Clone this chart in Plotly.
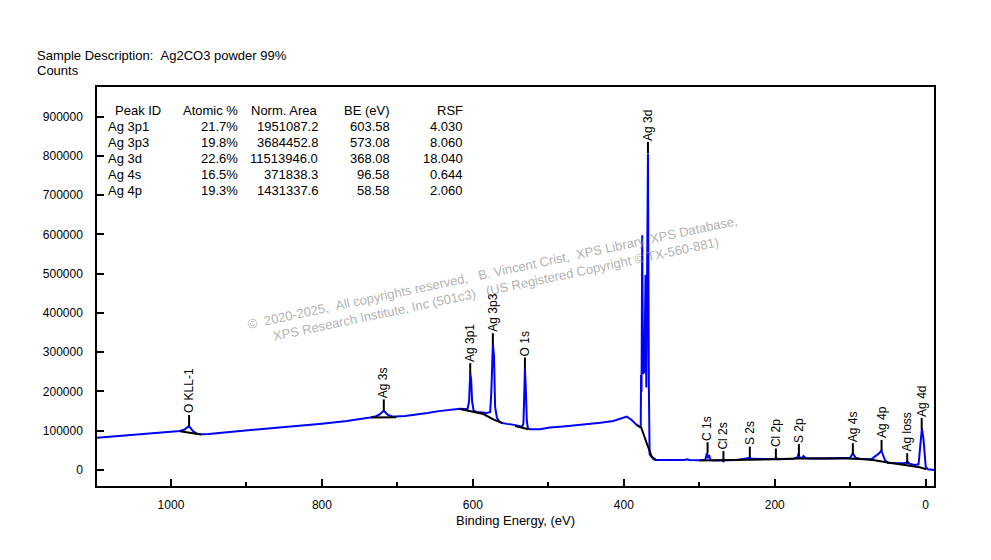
import plotly.graph_objects as go

# survey spectrum (binding energy eV, counts)
be = [1098, 1080, 1060, 1040, 1020, 1005, 995, 988, 982, 979, 976, 973, 970, 965, 960,
      950, 920, 900, 880, 855, 830, 800, 767, 750, 736, 728, 724, 718, 713, 708, 703,
      690, 679, 660, 645, 634, 625, 617, 610, 607, 605, 603.5, 602.3, 601, 599, 595,
      590, 582, 577, 575.5, 573.5, 572, 570.5, 568, 565, 561, 555, 545, 535, 533, 532,
      531, 530, 528.5, 527, 524, 511, 498, 480, 458, 431, 414, 400, 396, 389.5, 383,
      379, 377.6, 377.1, 376.5, 375.6, 374.5, 372.8, 371.2, 370.2, 368.0, 366.8, 365.8,
      363.5, 361, 358, 340, 320, 316, 313, 300, 292, 290, 288.5, 287, 285, 280, 260,
      250, 246, 236, 233, 230, 211, 200, 198, 196, 175, 170, 168.5, 167, 164, 162, 159,
      150, 130, 114, 100, 96.5, 93, 87, 72, 67.5, 62, 58.7, 56, 54, 50, 40, 30, 26, 24,
      21.5, 15, 9.5, 7.5, 5, 3, 2, 0, -3, -11]
counts = [82000, 85000, 88000, 91000, 94000, 98000, 100000, 99500, 103000, 107000, 112000,
          104000, 97500, 92000, 91000, 92000, 97000, 101000, 103500, 107000, 112000, 118000,
          125000, 129000, 134000, 137000, 141000, 151000, 141000, 137000, 136000, 137500,
          140000, 145000, 150000, 153000, 155000, 156000, 155500, 156000, 175000, 246000,
          232000, 175000, 151000, 148000, 147000, 145000, 148000, 200000, 321000, 290000,
          160000, 132000, 124000, 119500, 117500, 115000, 110000, 118000, 185000, 260000,
          215000, 125000, 106000, 104000, 104000, 108000, 111000, 115000, 120500, 125000,
          133000, 136000, 127500, 114600, 110000, 108000, 242000, 200000, 598000, 245000,
          250000, 497000, 210000, 806000, 210000, 40000, 34000, 28000, 25500, 25000, 25500,
          27500, 25500, 25000, 26000, 42500, 30000, 38000, 25000, 24000, 24500, 25500,
          27000, 29000, 31000, 28500, 27000, 28000, 30000, 27500, 28500, 32000, 41000,
          32000, 30000, 35500, 30000, 29000, 29000, 29800, 31000, 42500, 31000, 28500,
          27500, 34000, 42000, 49500, 35000, 25500, 17500, 17000, 17000, 18500, 21500,
          16000, 12700, 14500, 50000, 106000, 80000, 45000, 8500, 1800, 0]

# fitted backgrounds under the peak regions (None = gap between regions)
bg_be = [988, 975, 960, None,
         735, 701.5, None,
         617, 599, 586, 573, 566, 561, None,
         544, 535, 526.4, None,
         383, 377, 370, 363, 357, None,
         300, 250, 200, 170, 150, 114, 87, 70, 52, 25.6, 8, -1]
bg_counts = [98500, 95000, 90500, None,
             134000, 134500, None,
             155500, 148000, 142600, 129000, 123000, 119500, None,
             112000, 108000, 103600, None,
             115000, 108500, 70000, 34000, 25000, None,
             24500, 25500, 27500, 29500, 30000, 30000, 28000, 25500, 19600, 12700, 6900, 1800]

# peak labels: name, binding energy, height of the marker dash
label_names = ["O KLL-1", "Ag 3s", "Ag 3p1", "Ag 3p3", "O 1s", "Ag 3d", "C 1s", "Cl 2s",
               "S 2s", "Cl 2p", "S 2p", "Ag 4s", "Ag 4p", "Ag loss", "Ag 4d"]
label_be = [976, 718, 603.5, 573.5, 531, 368, 289, 268, 233, 198.5, 168, 96.5, 58.5, 24.5, 5.3]
label_counts = [126000, 165600, 257800, 334200, 272500, 821400, 56500, 33900, 45300, 40300,
                51700, 54000, 62400, 28500, 118000]

# quantification table
tbl_header = ["Peak ID", "Atomic %", "Norm. Area", "BE (eV)", "RSF"]
tbl_peak = ["Ag 3p1", "Ag 3p3", "Ag 3d", "Ag 4s", "Ag 4p"]
tbl_atomic = ["21.7%", "19.8%", "22.6%", "16.5%", "19.3%"]
tbl_area = ["1951087.2", "3684452.8", "11513946.0", "371838.3", "1431337.6"]
tbl_be = ["603.58", "573.08", "368.08", "96.58", "58.58"]
tbl_rsf = ["4.030", "8.060", "18.040", "0.644", "2.060"]

FONT = "Liberation Sans, Arial, sans-serif"
NB = "\u00a0"
BLACK13 = dict(family=FONT, size=13, color="black")

fig = go.Figure()
fig.add_trace(go.Scatter(x=be, y=counts, mode="lines",
                         line=dict(color="#0000ff", width=2)))
fig.add_trace(go.Scatter(x=bg_be, y=bg_counts, mode="lines", connectgaps=False,
                         line=dict(color="black", width=2)))
fig.add_trace(go.Scatter(x=label_be, y=label_counts, mode="markers",
                         marker=dict(symbol="line-ns", size=8,
                                     line=dict(color="black", width=2))))

annotations = []
for name, x, y in zip(label_names, label_be, label_counts):
    annotations.append(dict(x=x, y=y, text=name, showarrow=False, textangle=-90,
                            xanchor="center", yanchor="bottom", yshift=5,
                            font=dict(family=FONT, size=12, color="black")))

# table, one annotation per cell (paper coords, plot area is 399 px high)
row_h = 15.9 / 399
y_head = (486 - 110.7) / 399
cols = [
    (tbl_peak, 0.0111, "left"),
    (tbl_atomic, 0.1714, "right"),
    (tbl_area, 0.2670, "right"),
    (tbl_be, 0.3526, "right"),
    (tbl_rsf, 0.4397, "right"),
]
for (vals, xp, al), head in zip(cols, tbl_header):
    hx = xp + 0.0084 if head == "Peak ID" else xp
    annotations.append(dict(xref="paper", yref="paper", x=hx, y=y_head,
                            xanchor=al, yanchor="middle", showarrow=False,
                            text=head, font=BLACK13))
    for i, v in enumerate(vals):
        annotations.append(dict(xref="paper", yref="paper", x=xp,
                                y=y_head - (i + 1) * row_h,
                                xanchor=al, yanchor="middle", showarrow=False,
                                text=v, font=BLACK13))

annotations.append(dict(xref="paper", yref="paper", x=0, xshift=-62, y=1.080,
                        xanchor="left", yanchor="middle", showarrow=False,
                        text="Sample Description:" + NB * 2 + "Ag2CO3 powder 99%",
                        font=BLACK13))
annotations.append(dict(xref="paper", yref="paper", x=0, xshift=-62, y=1.041,
                        xanchor="left", yanchor="middle", showarrow=False,
                        text="Counts", font=BLACK13))

wm1 = ("©" + NB * 2 + "2020-2025," + NB * 2 + "All copyrights reserved," + NB * 3 +
       "B. Vincent Crist," + NB * 2 + "XPS Library, XPS Database,")
wm2 = "XPS Research Institute, Inc (501c3)" + NB * 3 + "(US Registered Copyright © TX-560-881)"
annotations.append(dict(xref="paper", yref="paper", x=0.474, y=0.514,
                        xanchor="center", yanchor="middle", showarrow=False,
                        textangle=-12, align="center", text=wm1 + "<br>" + wm2,
                        font=dict(family=FONT, size=13, color="rgba(150,150,150,0.75)")))

fig.update_layout(
    width=991, height=560,
    margin=dict(l=89, r=65, t=79, b=82),
    paper_bgcolor="white", plot_bgcolor="white",
    showlegend=False,
    annotations=annotations,
    font=dict(family=FONT, size=12, color="black"),
    xaxis=dict(range=[1098, -11], dtick=200, tick0=0, ticks="inside", ticklen=7,
               tickcolor="black", tickwidth=1.5,
               minor=dict(dtick=100, tick0=0, ticks="inside", ticklen=4,
                          tickcolor="black", tickwidth=1.5),
               showgrid=False, zeroline=False, showline=True, linecolor="black",
               linewidth=1.5, mirror=True, ticklabelstandoff=7,
               title=dict(text="Binding Energy, (eV)", standoff=5,
                          font=dict(family=FONT, size=13))),
    yaxis=dict(range=[-40750, 975600], dtick=100000, tick0=0, tickformat="d",
               ticks="inside", ticklen=7, tickcolor="black", tickwidth=1.5,
               showgrid=False, zeroline=False, showline=True, linecolor="black",
               linewidth=1.5, mirror=True, ticklabelstandoff=10),
)

fig.write_html("out.html")
